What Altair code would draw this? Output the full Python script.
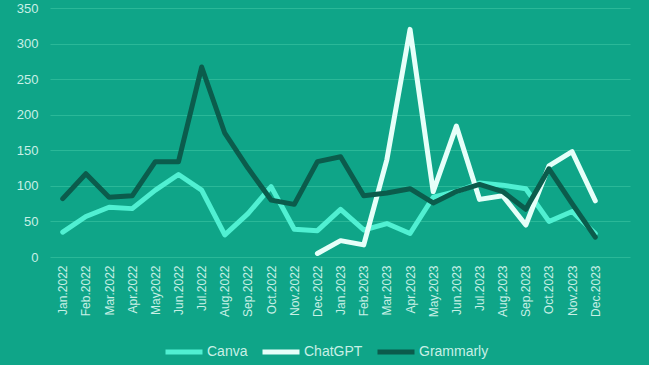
import altair as alt
import pandas as pd

months = ["Jan.2022", "Feb.2022", "Mar.2022", "Apr.2022", "May2022", "Jun.2022",
          "Jul.2022", "Aug.2022", "Sep.2022", "Oct.2022", "Nov.2022", "Dec.2022",
          "Jan.2023", "Feb.2023", "Mar.2023", "Apr.2023", "May.2023", "Jun.2023",
          "Jul.2023", "Aug.2023", "Sep.2023", "Oct.2023", "Nov.2023", "Dec.2023"]
canva = [35, 57, 70, 68, 94, 116, 94, 31, 61, 99, 39, 37,
         67, 38, 47, 33, 84, 92, 104, 101, 96, 50, 64, 33]
chatgpt = [None] * 11 + [5, 23, 17, 137, 320, 92, 184, 81, 86, 45, 128, 148, 79]
grammarly = [82, 117, 84, 86, 134, 134, 267, 174, 125, 80, 74, 134,
             141, 86, 90, 96, 76, 92, 102, 92, 67, 124, 75, 28]

series = ["Canva", "ChatGPT", "Grammarly"]
colors = ["#50f0d2", "#e6fff9", "#0b5c4c"]

rows = []
for name, vals in zip(series, [canva, chatgpt, grammarly]):
    for i, v in enumerate(vals):
        if v is not None:
            rows.append({"idx": i, "month": months[i], "series": name, "value": v})
df = pd.DataFrame(rows)

label_expr = "[" + ",".join(f"'{m}'" for m in months) + "][datum.value]"

chart = alt.Chart(df).mark_line(strokeWidth=5, strokeCap="round", strokeJoin="round").encode(
    x=alt.X("idx:Q", scale=alt.Scale(domain=[-0.55, 24.5], nice=False, zero=False),
            axis=alt.Axis(values=list(range(24)), labelExpr=label_expr, labelAngle=-90,
                          labelAlign="right", labelBaseline="middle", labelPadding=8,
                          labelColor="#c8f0e6", labelFontSize=12, labelFont="Liberation Sans",
                          grid=False, ticks=False, domain=False, title=None)),
    y=alt.Y("value:Q", scale=alt.Scale(domain=[0, 350], nice=False),
            axis=alt.Axis(values=list(range(0, 351, 50)), labelColor="#c8f0e6",
                          labelFontSize=13, labelFont="Liberation Sans", labelPadding=12,
                          grid=True, gridColor="#2ab898", gridWidth=1,
                          ticks=False, domain=False, title=None)),
    color=alt.Color("series:N", scale=alt.Scale(domain=series, range=colors),
                    legend=alt.Legend(orient="none", legendX=113, legendY=323,
                                      direction="horizontal", title=None,
                                      symbolType="stroke", symbolSize=1369, symbolStrokeWidth=5,
                                      labelColor="#c8f0e6", labelFontSize=14,
                                      labelFont="Liberation Sans", labelOffset=2,
                                      columnPadding=4)),
    order=alt.Order("series:N"),
).properties(
    width=580, height=249,
    background="#0fa588",
    padding={"left": 50, "top": 8, "right": 19, "bottom": 108},
    autosize=alt.AutoSizeParams(type="none"),
).configure_view(stroke=None)

chart.save("out.html", embed_options={"renderer": "svg", "actions": False})
